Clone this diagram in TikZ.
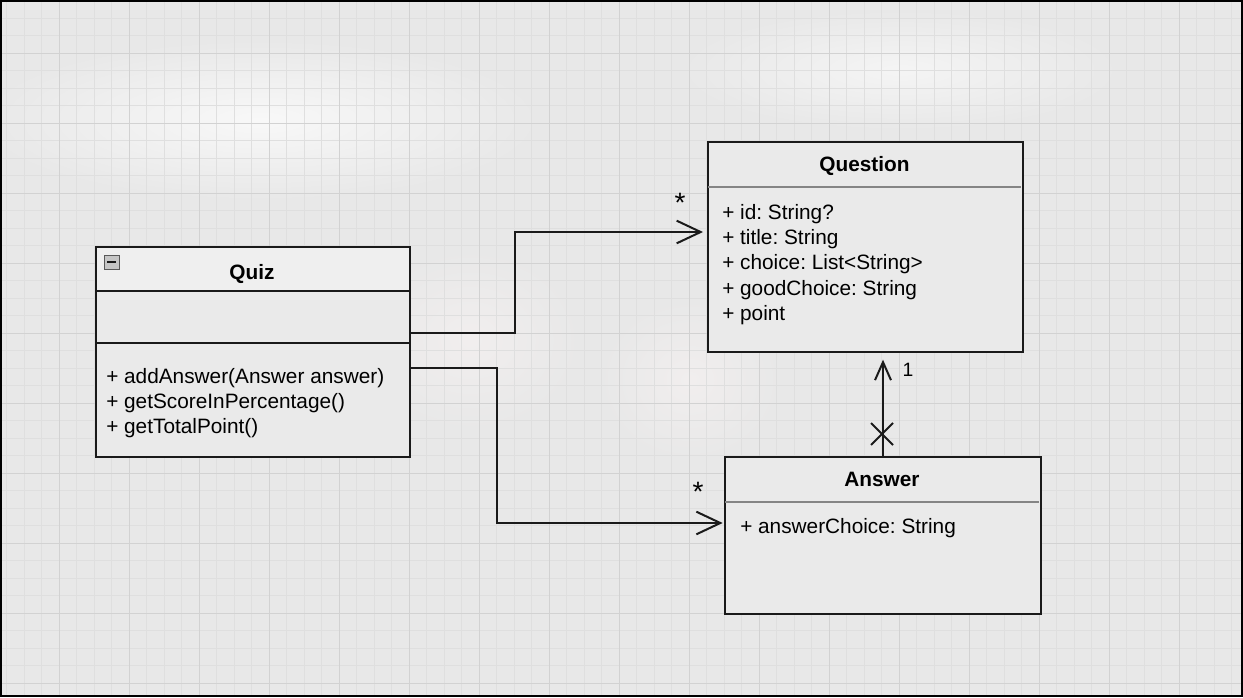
\documentclass[tikz,border=0pt]{standalone}
\usepackage{fontspec}
\setmainfont{Liberation Sans}
\usetikzlibrary{arrows.meta}

\definecolor{bgcol}{HTML}{E8E8E8}
\definecolor{gridminor}{HTML}{DFDFDF}
\definecolor{gridmajor}{HTML}{D2D2D2}
\definecolor{boxcol}{HTML}{EAEAEA}
\definecolor{headcol}{HTML}{EFEFEF}
\definecolor{linecol}{HTML}{1A1A1A}
\definecolor{sepcol}{HTML}{858585}

\tikzset{
  classbox/.style={draw=linecol, line width=1.5pt, fill=boxcol, inner sep=0pt, anchor=north west},
  member/.style={anchor=base west, inner sep=0pt, font=\fontsize{15.6}{18}\selectfont},
  classname/.style={anchor=base, inner sep=0pt, font=\fontsize{15.6}{18}\selectfont\bfseries},
  assoc/.style={draw=linecol, line width=1.5pt, -{Straight Barb[length=18pt, width=17pt]}},
  mult/.style={anchor=base, inner sep=0pt},
}
\frenchspacing

\begin{document}
\begin{tikzpicture}[x=0.75pt, y=-0.75pt]
\useasboundingbox (0,0) rectangle (1243,697);

% Background
\fill[bgcol] (0,0) rectangle (1243,697);
\shade[inner color=white!70!bgcol, outer color=bgcol] (260,120) ellipse (280 and 80);
\shade[inner color=white!55!bgcol, outer color=bgcol] (900,70) ellipse (220 and 60);
\shade[inner color=red!3!white!40!bgcol, outer color=bgcol] (470,340) ellipse (110 and 90);
\shade[inner color=red!3!white!40!bgcol, outer color=bgcol] (690,380) ellipse (90 and 80);

% Grid
\foreach \x in {6.5,24,...,1243} \draw[gridminor, line width=0.75pt] (\x,0) -- (\x,697);
\foreach \y in {0.5,18,...,697} \draw[gridminor, line width=0.75pt] (0,\y) -- (1243,\y);
\foreach \x in {59,129,...,1243} \draw[gridmajor, line width=0.75pt] (\x,0) -- (\x,697);
\foreach \y in {53,123,...,697} \draw[gridmajor, line width=0.75pt] (0,\y) -- (1243,\y);

% Class boxes
\node[classbox, minimum width=235.5pt, minimum height=157.5pt] (quiz) at (95,246) {};
\node[classbox, minimum width=236.25pt, minimum height=157.5pt] (question) at (707,141) {};
\node[classbox, minimum width=237pt, minimum height=117.75pt] (answer) at (724,456) {};

% Quiz
\fill[headcol] (96.5,247.5) rectangle (408.5,290);
\draw[linecol, line width=1.5pt] (95,291) -- (410,291);
\draw[linecol, line width=1.5pt] (95,343) -- (410,343);
\draw[gray!70!black, fill=gray!45, line width=0.75pt] (104,255) rectangle (119,269);
\draw[linecol, line width=1.5pt] (107,262) -- (116,262);
\node[classname] (quizname) at (252,279) {Quiz};
\node[member] (addanswer) at (106,383) {+ addAnswer(Answer answer)};
\node[member] (getscore) at (106,408) {+ getScoreInPercentage()};
\node[member] (gettotal) at (106,433) {+ getTotalPoint()};

% Question
\draw[sepcol, line width=1.5pt] (708,187) -- (1021,187);
\node[classname] (questionname) at (864.5,171) {Question};
\node[member] (qid) at (722,219) {+ id: String?};
\node[member] (qtitle) at (722,244) {+ title: String};
\node[member] (qchoice) at (722,269) {+ choice: List<String>};
\node[member] (qgood) at (722,295) {+ goodChoice: String};
\node[member] (qpoint) at (722,320) {+ point};

% Answer
\draw[sepcol, line width=1.5pt] (725,502) -- (1039,502);
\node[classname] (answername) at (882,486) {Answer};
\node[member] (achoice) at (740,533) {+ answerChoice: String};

% Associations
\coordinate (toquestion) at (410,333);
\coordinate (toanswer) at (410,368);
\draw[assoc, shorten >=3pt] (toquestion) -| (515,232) -- (question.west |- 0,232);
\draw[assoc, shorten >=1pt] (toanswer) -| (497,523) -- (answer.west |- 0,523);
\draw[draw=linecol, line width=1.5pt, -{Straight Barb[length=13.5pt, width=12pt]}, shorten >=5pt]
  (answer.north) -- (answer.north |- question.south);
\draw[linecol, line width=1.5pt] (871,423) -- (893,445) (871,445) -- (893,423);

% Multiplicities
\node[mult, font=\fontsize{21}{21}\selectfont] (starquestion) at (680,212) {*};
\node[mult, font=\fontsize{21}{21}\selectfont] (staranswer) at (698,501) {*};
\node[mult, font=\fontsize{14.5}{16}\selectfont] (onequestion) at (908,376) {1};

% Frame
\draw[black, line width=1.5pt] (1,1) rectangle (1242,696);
\end{tikzpicture}
\end{document}
